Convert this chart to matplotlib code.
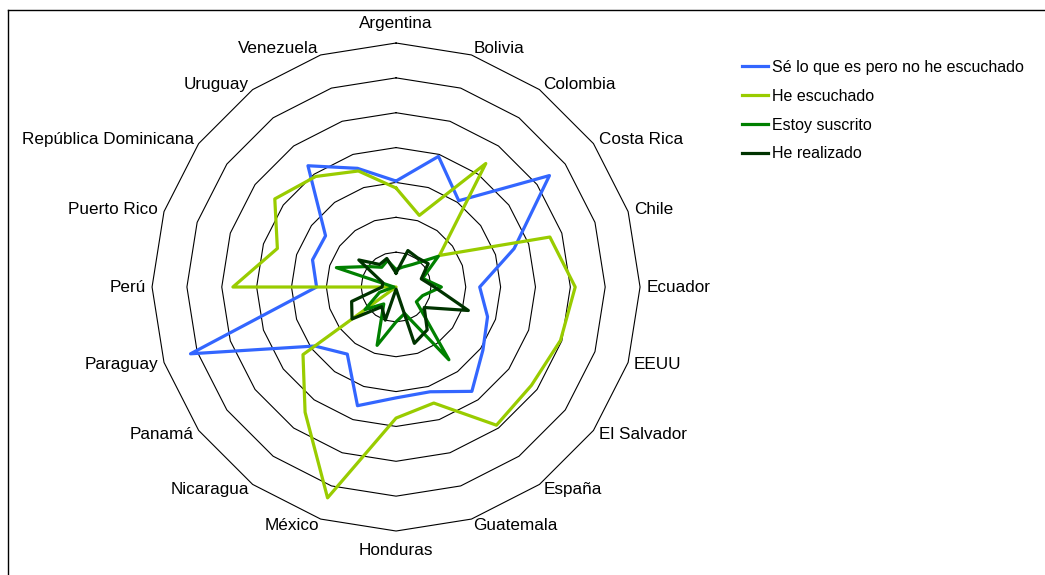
import numpy as np
import matplotlib
matplotlib.use("Agg")
import matplotlib.pyplot as plt
from matplotlib.lines import Line2D

plt.rcParams['font.family'] = ['Liberation Sans', 'DejaVu Sans']

# countries, clockwise from the top
paises = ['Argentina', 'Bolivia', 'Colombia', 'Costa Rica', 'Chile', 'Ecuador',
          'EEUU', 'El Salvador', 'España', 'Guatemala', 'Honduras', 'México',
          'Nicaragua', 'Panamá', 'Paraguay', 'Perú', 'Puerto Rico',
          'República Dominicana', 'Uruguay', 'Venezuela']

se_lo_que_es = [15.2, 19.7, 15.3, 27.2, 17.8, 12.0, 13.8, 15.4, 18.5, 15.8,
                15.9, 17.9, 11.9, 14.4, 31.0, 11.4, 12.6, 12.5, 21.5, 17.9]
he_escuchado = [14.2, 10.8, 21.9, 7.7, 23.2, 25.7, 24.8, 24.0, 24.5, 17.5,
                18.8, 31.8, 22.2, 16.5, 0.0, 23.4, 17.9, 21.5, 19.6, 17.5]
estoy_suscrito = [2.5, 3.0, 4.0, 7.5, 4.0, 6.5, 4.0, 3.6, 12.9, 4.0,
                  5.0, 8.8, 3.0, 5.5, 2.5, 0.3, 9.0, 5.0, 3.5, 4.0]
he_realizado = [2.0, 5.5, 5.2, 5.7, 3.8, 5.5, 10.9, 5.0, 7.6, 8.5,
                0.3, 5.0, 3.5, 7.8, 6.7, 2.0, 2.0, 6.6, 4.0, 4.3]

series = ['Sé lo que es pero no he escuchado', 'He escuchado',
          'Estoy suscrito', 'He realizado']
colores = ['#3366FF', '#99CC00', '#008000', '#003300']
anillos = [5, 10, 15, 20, 25, 30, 35]

n = len(paises)
theta = np.linspace(0, 2 * np.pi, n, endpoint=False)
theta_c = np.append(theta, theta[0])

fig = plt.figure(figsize=(10.45, 5.75), dpi=100)
ax = fig.add_axes([0.1455, 0.0765, 0.467, 0.8487], projection='polar')
ax.set_theta_zero_location('N')
ax.set_theta_direction(-1)
ax.set_ylim(0, 35)
ax.grid(False)
ax.spines['polar'].set_visible(False)
ax.set_xticks([])
ax.set_yticks([])
ax.patch.set_alpha(0)

# polygon rings
for r in anillos:
    ax.plot(theta_c, [r] * (n + 1), color='black', lw=0.8, clip_on=False)

for vals, nombre, c in zip([se_lo_que_es, he_escuchado, estoy_suscrito, he_realizado],
                           series, colores):
    v = np.append(vals, vals[0])
    ax.plot(theta_c, v, color=c, lw=2.3, label=nombre, clip_on=False)

# category labels
for t, p in zip(theta, paises):
    s = np.sin(t)
    c = np.cos(t)
    if c > 0.99:
        ax.text(t, 36.7, p, ha='center', va='bottom', fontsize=12.3, clip_on=False)
    elif c < -0.99:
        ax.text(t, 36.7, p, ha='center', va='top', fontsize=12.3, clip_on=False)
    else:
        ha = 'left' if s > 0 else 'right'
        ax.text(t, 35.9, p, ha=ha, va='center', fontsize=12.3, clip_on=False)

fig.legend(loc='upper left', bbox_to_anchor=(0.710, 0.896), frameon=False,
           fontsize=11.5, handlelength=1.6, handletextpad=0.3,
           labelspacing=0.87, borderpad=0, borderaxespad=0)

# chart frame (left and top edges)
fig.add_artist(Line2D([8 / 1045, 8 / 1045], [0, 1 - 10 / 575], color='black', lw=1))
fig.add_artist(Line2D([8 / 1045, 1], [1 - 10 / 575, 1 - 10 / 575], color='black', lw=1))

fig.savefig('out.png', dpi=100)
